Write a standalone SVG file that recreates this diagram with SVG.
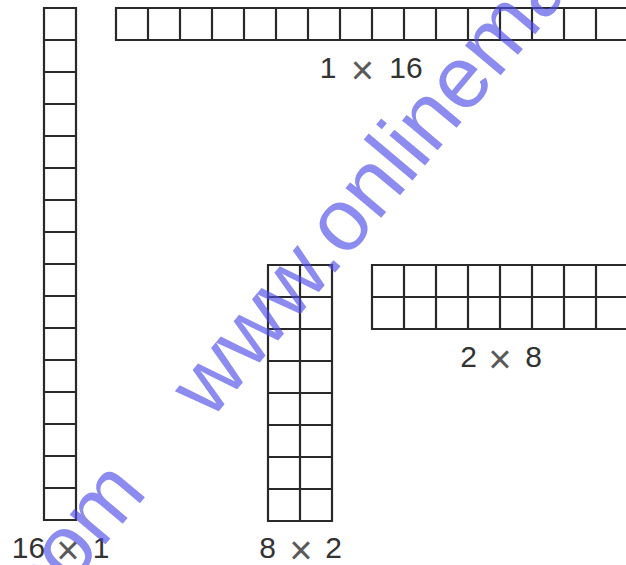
<svg xmlns="http://www.w3.org/2000/svg" width="626" height="565" viewBox="0 0 626 565">
  <style>
    .grid { fill: none; stroke: #2a2a2a; stroke-width: 2.2; }
    .lbl { font-family: "Liberation Sans", Arial, sans-serif; font-size: 30px; fill: #333; text-anchor: middle; }
    .x { fill: #5a5a5a; font-size: 40px; }
    .wm { font-family: "Liberation Sans", Arial, sans-serif; font-size: 88px; fill: #4d4de8; fill-opacity: 0.65; }
  </style>
  <rect width="626" height="565" fill="#fff"/>

  <g id="grid-16x1">
    <path class="grid" d="M44 8H76V520H44Z M44 40H76 M44 72H76 M44 104H76 M44 136H76 M44 168H76 M44 200H76 M44 232H76 M44 264H76 M44 296H76 M44 328H76 M44 360H76 M44 392H76 M44 424H76 M44 456H76 M44 488H76"/>
    <text class="lbl"><tspan x="28.5" y="558">16</tspan><tspan class="x" x="68" y="564">×</tspan><tspan x="101" y="558">1</tspan></text>
  </g>

  <g id="grid-1x16">
    <path class="grid" d="M116 8H628V40H116Z M148 8V40 M180 8V40 M212 8V40 M244 8V40 M276 8V40 M308 8V40 M340 8V40 M372 8V40 M404 8V40 M436 8V40 M468 8V40 M500 8V40 M532 8V40 M564 8V40 M596 8V40"/>
    <text class="lbl"><tspan x="328" y="78">1</tspan><tspan class="x" x="362.5" y="84">×</tspan><tspan x="406" y="78">16</tspan></text>
  </g>

  <g id="grid-8x2">
    <path class="grid" d="M268 265H332V521H268Z M300 265V521 M268 297H332 M268 329H332 M268 361H332 M268 393H332 M268 425H332 M268 457H332 M268 489H332"/>
    <text class="lbl"><tspan x="267.5" y="558">8</tspan><tspan class="x" x="301" y="564">×</tspan><tspan x="333.5" y="558">2</tspan></text>
  </g>

  <g id="grid-2x8">
    <path class="grid" d="M372 265H628V329H372Z M372 297H628 M404 265V329 M436 265V329 M468 265V329 M500 265V329 M532 265V329 M564 265V329 M596 265V329"/>
    <text class="lbl"><tspan x="468.5" y="367">2</tspan><tspan class="x" x="500" y="373">×</tspan><tspan x="533.5" y="367">8</tspan></text>
  </g>

  <g id="connectors"/>

  <g id="watermark">
    <text class="wm" transform="translate(210.6 421) rotate(-50)">www.onlinemath4all.com</text>
    <text class="wm" text-anchor="end" transform="translate(148.5 492.8) rotate(-50)">www.onlinemath4all.com</text>
  </g>
</svg>
